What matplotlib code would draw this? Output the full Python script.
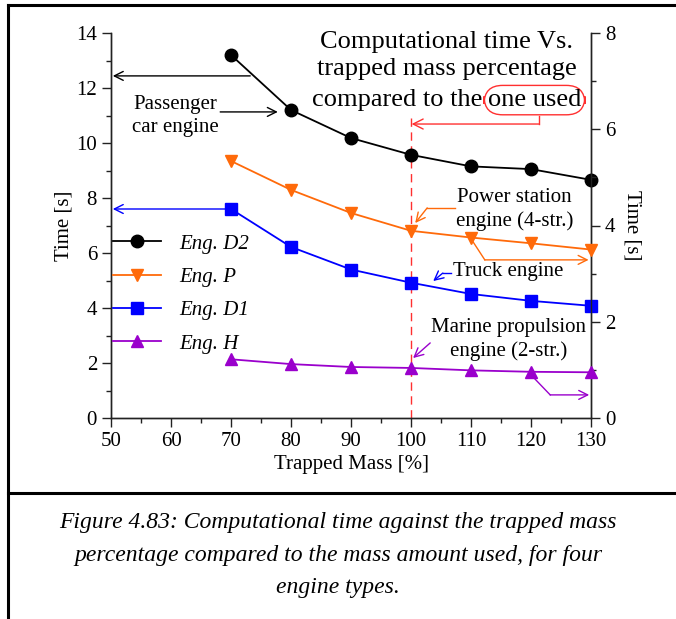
import matplotlib
matplotlib.use("Agg")
import matplotlib.pyplot as plt
from matplotlib.lines import Line2D
from matplotlib.ticker import MultipleLocator

plt.rcParams['font.family'] = ['Liberation Serif', 'DejaVu Serif']
plt.rcParams['mathtext.fontset'] = 'stix'

# Trapped mass percentage
mass = [70, 80, 90, 100, 110, 120, 130]

# Computational time, left axis [s]
eng_d2 = [13.2, 11.2, 10.18, 9.57, 9.15, 9.05, 8.66]
eng_d1 = [7.6, 6.22, 5.4, 4.92, 4.51, 4.26, 4.08]
# Computational time, right axis [s]
eng_p = [5.34, 4.74, 4.26, 3.89, 3.75, 3.63, 3.5]
eng_h = [1.22, 1.12, 1.06, 1.04, 0.99, 0.96, 0.95]

labels = ["Eng. D2", "Eng. P", "Eng. D1", "Eng. H"]
c_black = "#000000"
c_orange = "#FF6A0A"
c_blue = "#0000FF"
c_purple = "#9A00CC"
c_red = "#FF3030"

W, H = 676, 619
fig = plt.figure(figsize=(W / 100, H / 100), dpi=100)

ax = fig.add_axes([111 / W, 1 - 418 / H, 480 / W, 385 / H])
ax2 = ax.twinx()

FS = 15
ms = 9
lw = 1.3

l_d2, = ax.plot(mass, eng_d2, '-o', color=c_black, ms=ms, lw=lw, clip_on=False, zorder=5)
l_d1, = ax.plot(mass, eng_d1, '-s', color=c_blue, ms=ms, lw=lw, clip_on=False, zorder=5)
l_p, = ax2.plot(mass, eng_p, '-v', color=c_orange, ms=ms, lw=lw, clip_on=False, zorder=5)
l_h, = ax2.plot(mass, eng_h, '-^', color=c_purple, ms=ms, lw=lw, clip_on=False, zorder=5)

ax.set_xlim(50, 130)
ax.set_ylim(0, 14)
ax2.set_ylim(0, 8)

ax.xaxis.set_major_locator(MultipleLocator(10))
ax.xaxis.set_minor_locator(MultipleLocator(5))
ax.yaxis.set_major_locator(MultipleLocator(2))
ax.yaxis.set_minor_locator(MultipleLocator(1))
ax2.yaxis.set_major_locator(MultipleLocator(2))
ax2.yaxis.set_minor_locator(MultipleLocator(1))

for a in (ax, ax2):
    a.spines['top'].set_visible(False)
    for s in a.spines.values():
        s.set_linewidth(1.0)
        s.set_color('#222222')
    a.tick_params(which='major', direction='out', length=6.5, width=1.0,
                  labelsize=FS, color='#222222')
    a.tick_params(which='minor', direction='out', length=3.6, width=1.0,
                  color='#222222')
    a.set_facecolor('none')

ax.set_xlabel("Trapped Mass [%]", fontsize=FS, labelpad=3)
ax.set_ylabel("Time [s]", fontsize=FS, labelpad=2)
ax2.set_ylabel("Time [s]", fontsize=FS, rotation=270, labelpad=19)

# Reference line at the mass amount used
ax.plot([100, 100], [0, 10.9], color=c_red, lw=1.0, dashes=(6, 4))

# Title block
ax.text(106.0, 13.66, "Computational time Vs.", fontsize=19, ha='center', va='center')
ax.text(106.0, 12.68, "trapped mass percentage", fontsize=19, ha='center', va='center')
ax.text(111.9, 11.56, "compared to the", fontsize=19, ha='right', va='center')
ax.text(112.8, 11.56, "one used", fontsize=19, ha='left', va='center',
        bbox=dict(boxstyle='round,pad=0.14,rounding_size=0.7', fc='none',
                  ec=c_red, lw=1.0))
ax.plot([121.3, 121.3], [11.0, 10.69], color=c_red, lw=1.0)
ax.annotate("", xy=(100.1, 10.69), xytext=(121.3, 10.69),
            arrowprops=dict(arrowstyle='->', color=c_red, lw=1.0,
                            shrinkA=0, shrinkB=0, mutation_scale=18))

arrow_kw = dict(arrowstyle='->', lw=1.0, shrinkA=0, shrinkB=0, mutation_scale=16)

# Passenger car engine
ax.text(60.8, 10.99, "Passenger\ncar engine", fontsize=FS, ha='center', va='center',
        linespacing=1.3)
ax.annotate("", xy=(50.3, 12.44), xytext=(73.2, 12.44),
            arrowprops=dict(color=c_black, **arrow_kw))
ax.annotate("", xy=(77.8, 11.13), xytext=(68.2, 11.13),
            arrowprops=dict(color=c_black, **arrow_kw))

# Truck engine
ax.annotate("", xy=(50.3, 7.6), xytext=(69.8, 7.6),
            arrowprops=dict(color=c_blue, **arrow_kw))
ax.text(116.2, 5.31, "Truck engine", fontsize=FS, ha='center', va='center')
ax.plot([106.6, 105.3], [5.27, 5.27], color=c_blue, lw=1.0)
ax.annotate("", xy=(103.7, 4.98), xytext=(105.3, 5.27),
            arrowprops=dict(color=c_blue, **arrow_kw))

# Power station engine
ax.text(117.3, 7.58, "Power station\nengine (4-str.)", fontsize=FS, ha='center',
        va='center', linespacing=1.3)
ax.plot([107.3, 102.7], [7.64, 7.64], color=c_orange, lw=1.0)
ax.annotate("", xy=(100.7, 7.09), xytext=(102.7, 7.64),
            arrowprops=dict(color=c_orange, **arrow_kw))
ax.plot([110.3, 112.3], [6.42, 5.75], color=c_orange, lw=1.0)
ax.annotate("", xy=(129.6, 5.75), xytext=(112.3, 5.75),
            arrowprops=dict(color=c_orange, **arrow_kw))

# Marine propulsion engine
ax.text(116.3, 2.85, "Marine propulsion\nengine (2-str.)", fontsize=FS, ha='center',
        va='center', linespacing=1.3)
ax.annotate("", xy=(100.35, 2.18), xytext=(103.2, 2.73),
            arrowprops=dict(color=c_purple, **arrow_kw))
ax.plot([120.3, 123.2], [1.5, 0.84], color=c_purple, lw=1.0)
ax.annotate("", xy=(129.7, 0.84), xytext=(123.2, 0.84),
            arrowprops=dict(color=c_purple, **arrow_kw))

# Legend
leg_handles = [l_d2, l_p, l_d1, l_h]
leg = ax2.legend(leg_handles, labels, loc='upper left',
                 bbox_to_anchor=(113 / W, 1 - 234 / H), bbox_transform=fig.transFigure,
                 frameon=False, prop={'style': 'italic', 'size': FS},
                 handlelength=2.3, handletextpad=0.9, labelspacing=0.66,
                 borderpad=0, borderaxespad=0)

# Caption and frame
cap = ("Figure 4.83: Computational time against the trapped mass\n"
       "percentage compared to the mass amount used, for four\n"
       "engine types.")
fig.text(338 / W, 1 - 555 / H, cap, fontsize=17, style='italic', ha='center',
         va='center', linespacing=1.74)

frame_kw = dict(color='black', lw=2.2, transform=fig.transFigure, clip_on=False)
fig.add_artist(Line2D([8 / W, 8 / W], [0, 1 - 5 / H], **frame_kw))
fig.add_artist(Line2D([8 / W, 1], [1 - 5 / H, 1 - 5 / H], **frame_kw))
fig.add_artist(Line2D([8 / W, 1], [1 - 493 / H, 1 - 493 / H], **frame_kw))

fig.savefig("out.png", dpi=100)
